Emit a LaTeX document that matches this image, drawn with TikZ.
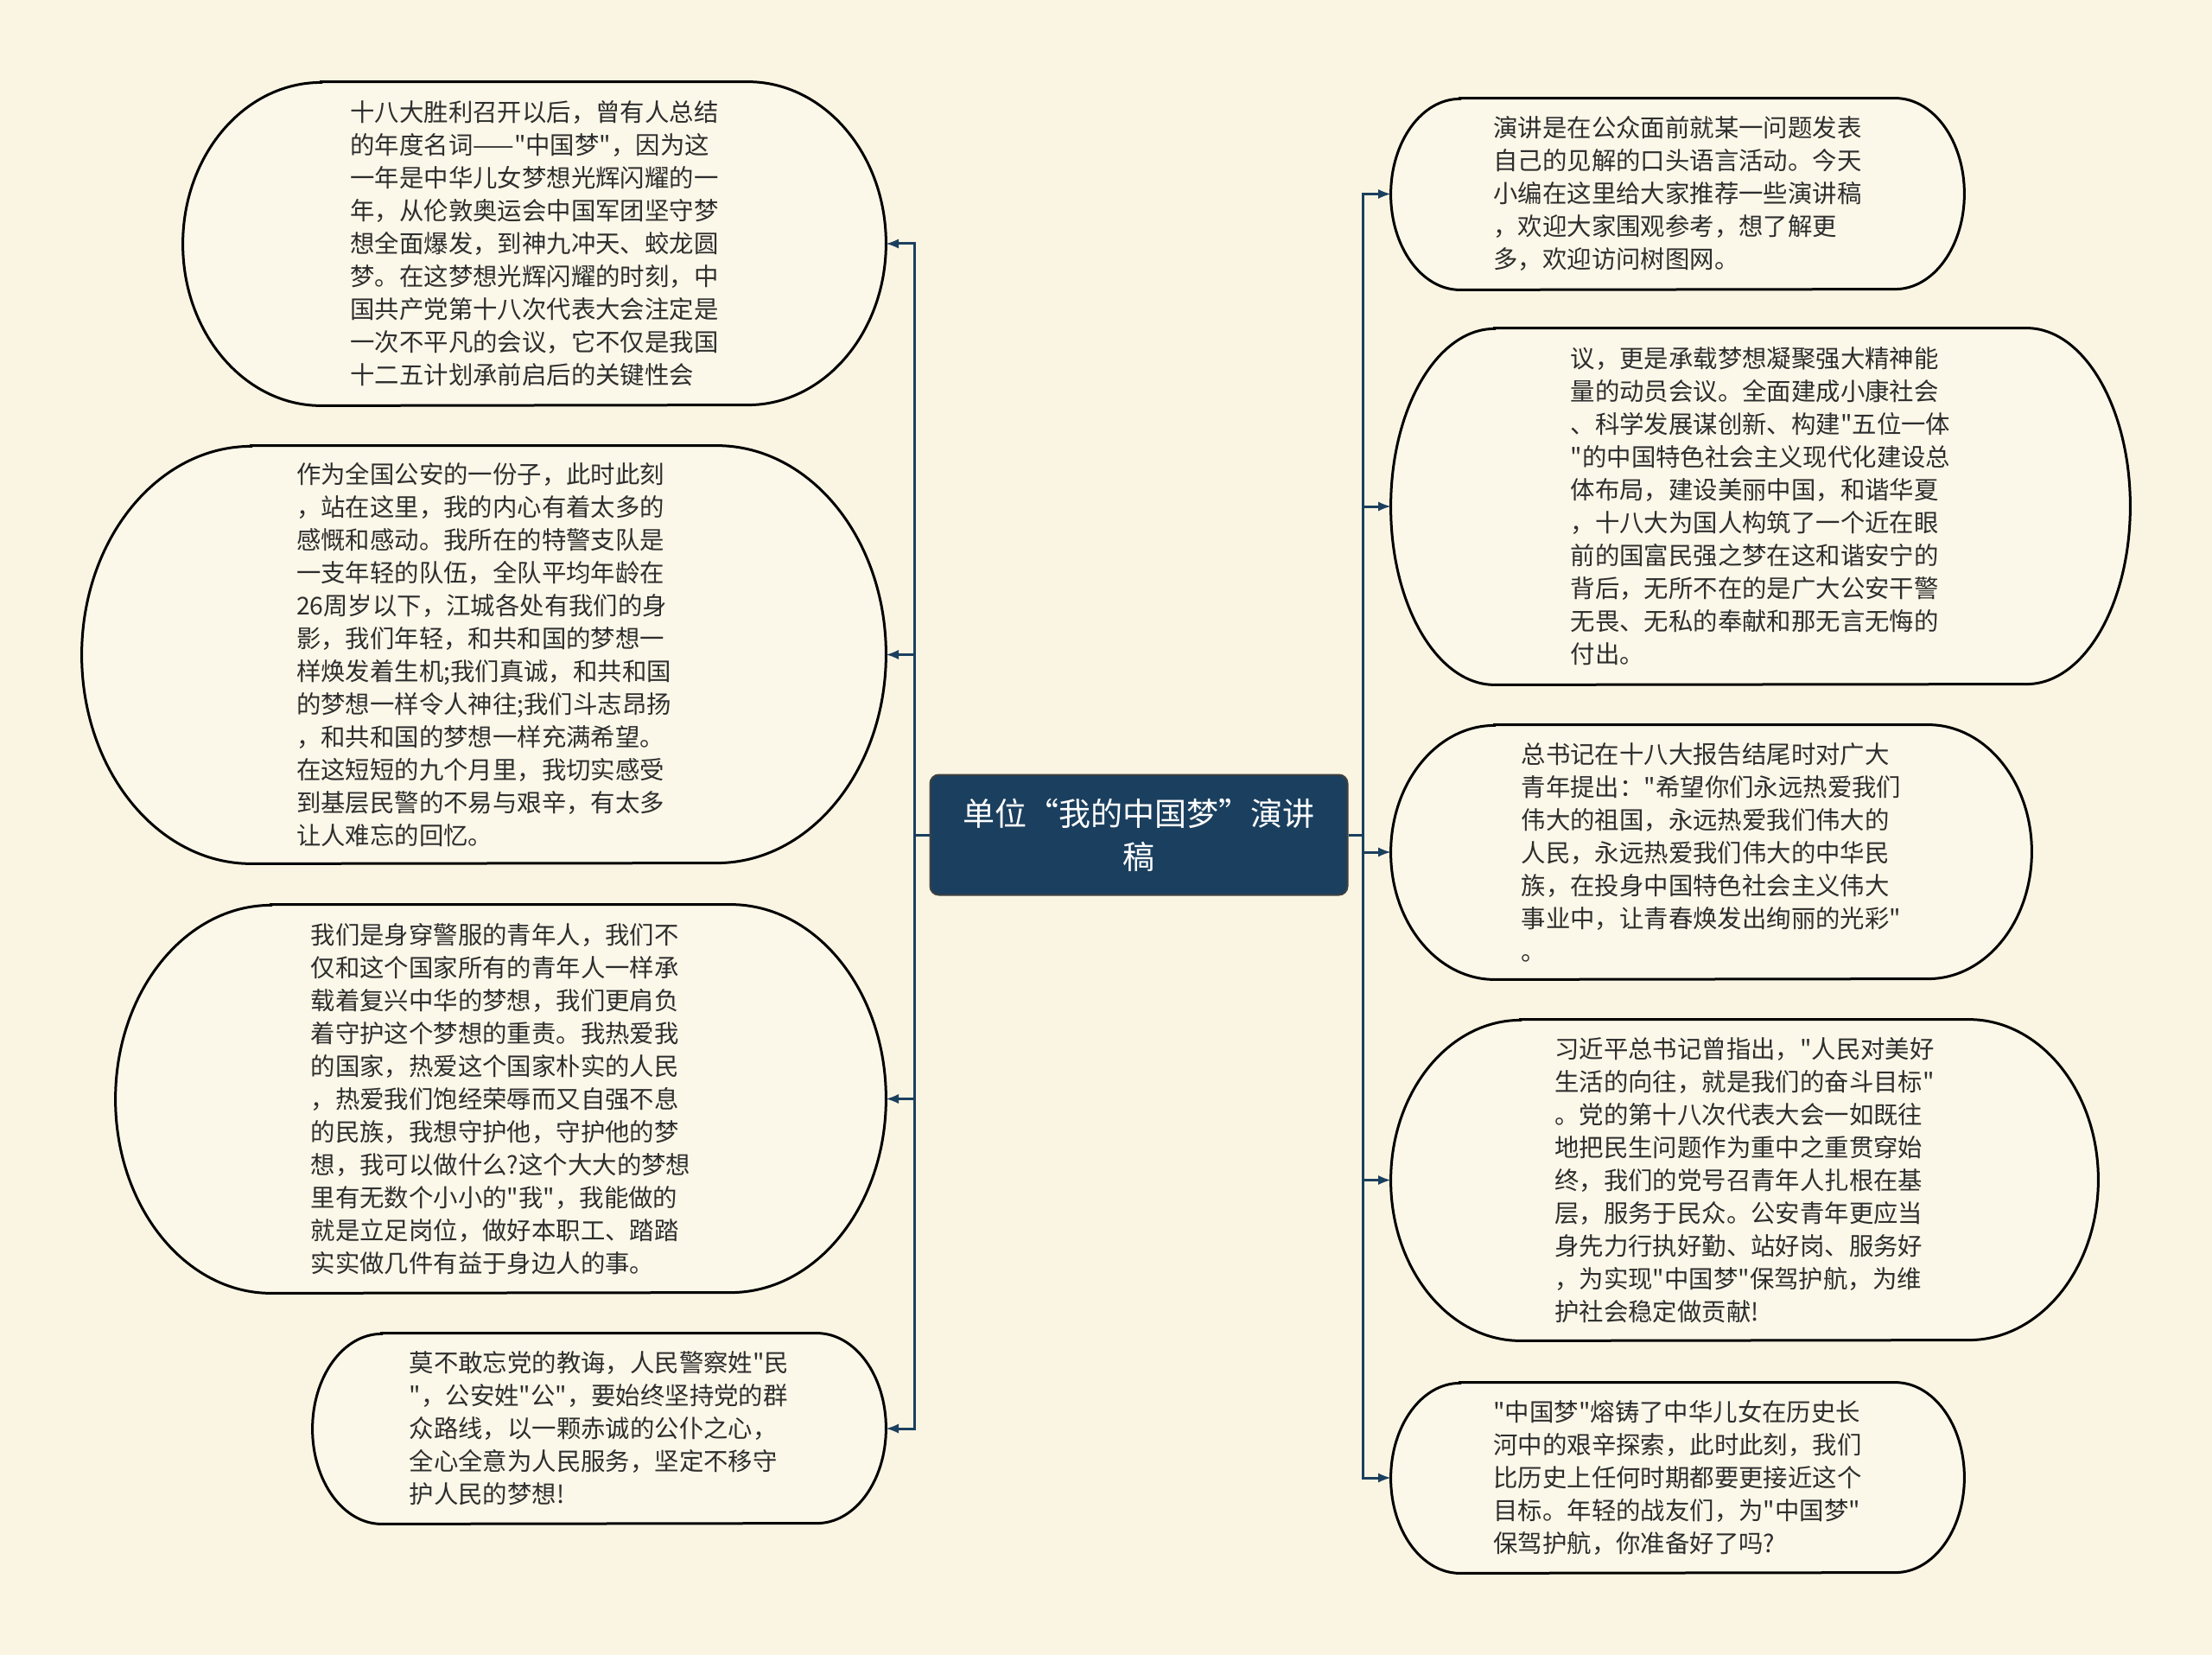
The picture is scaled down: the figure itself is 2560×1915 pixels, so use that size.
\documentclass[tikz,border=0pt]{standalone}
\usepackage{fontspec}
\setmainfont{Noto Sans CJK SC}
\newfontfamily\cjkfont{Noto Sans CJK SC}
\usetikzlibrary{backgrounds}
\definecolor{paper}{HTML}{FAF5E2}
\definecolor{bubblefill}{HTML}{FCF8E9}
\definecolor{navy}{HTML}{1B3F5E}
\definecolor{ink}{HTML}{2E2E2E}
% outline of a bubble: node, x radius, y radius of the round ends
\newcommand{\bubbleoutline}[3]{%
  \draw[bubbleline] ([xshift=#2]#1.north west) -- ([xshift=-#2]#1.north east)
    arc[start angle=90, end angle=-90, x radius=#2, y radius=#3]
    -- ([xshift=#2]#1.south west)
    arc[start angle=270, end angle=90, x radius=#2, y radius=#3] -- cycle;}
\begin{document}
\begin{tikzpicture}[x=0.5pt, y=-0.5pt]
\tikzset{
  topic/.style={draw=black!75, line width=1pt, rounded corners=5pt, fill=navy, text=white, align=center, font=\cjkfont\fontsize{18.5}{25}\selectfont, minimum width=241.5pt, minimum height=69.5pt, inner sep=0pt},
  bubble/.style={align=left, text=ink, font=\cjkfont\fontsize{14.2}{19}\selectfont, inner sep=0pt},
  bubbleline/.style={draw=black, line width=1.5pt, fill=bubblefill},
  branch/.style={draw=navy, line width=1.5pt, -latex},
  stem/.style={draw=navy, line width=1.5pt}
}
\useasboundingbox (0,0) rectangle (2560,1915);

\node[topic] (yanjianggao) at (1318,966) {单位“我的中国梦”演讲\\稿};

% left side
\node[bubble, minimum width=406.5pt, minimum height=187pt] (mingci) at (618.5,282) {十八大胜利召开以后，曾有人总结\\的年度名词——"中国梦"，因为这\\一年是中华儿女梦想光辉闪耀的一\\年，从伦敦奥运会中国军团坚守梦\\想全面爆发，到神九冲天、蛟龙圆\\梦。在这梦想光辉闪耀的时刻，中\\国共产党第十八次代表大会注定是\\一次不平凡的会议，它不仅是我国\\十二五计划承前启后的关键性会};
\node[bubble, minimum width=465pt, minimum height=241.5pt] (gongan) at (560,757.5) {作为全国公安的一份子，此时此刻\\，站在这里，我的内心有着太多的\\感慨和感动。我所在的特警支队是\\一支年轻的队伍，全队平均年龄在\\26周岁以下，江城各处有我们的身\\影，我们年轻，和共和国的梦想一\\样焕发着生机;我们真诚，和共和国\\的梦想一样令人神往;我们斗志昂扬\\，和共和国的梦想一样充满希望。\\在这短短的九个月里，我切实感受\\到基层民警的不易与艰辛，有太多\\让人难忘的回忆。};
\node[bubble, minimum width=445.5pt, minimum height=224.5pt] (qingnian) at (579.5,1271.5) {我们是身穿警服的青年人，我们不\\仅和这个国家所有的青年人一样承\\载着复兴中华的梦想，我们更肩负\\着守护这个梦想的重责。我热爱我\\的国家，热爱这个国家朴实的人民\\，热爱我们饱经荣辱而又自强不息\\的民族，我想守护他，守护他的梦\\想，我可以做什么?这个大大的梦想\\里有无数个小小的"我"，我能做的\\就是立足岗位，做好本职工、踏踏\\实实做几件有益于身边人的事。};
\node[bubble, minimum width=331.5pt, minimum height=110pt] (jiaohui) at (693.5,1653) {莫不敢忘党的教诲，人民警察姓"民\\"，公安姓"公"，要始终坚持党的群\\众路线，以一颗赤诚的公仆之心，\\全心全意为人民服务，坚定不移守\\护人民的梦想!};

% right side
\node[bubble, minimum width=331.5pt, minimum height=110.5pt] (yanjiang) at (1941.5,224.5) {演讲是在公众面前就某一问题发表\\自己的见解的口头语言活动。今天\\小编在这里给大家推荐一些演讲稿\\，欢迎大家围观参考，想了解更\\多，欢迎访问树图网。};
\node[bubble, minimum width=427.5pt, minimum height=206pt] (dongyuan) at (2037.5,586) {议，更是承载梦想凝聚强大精神能\\量的动员会议。全面建成小康社会\\、科学发展谋创新、构建"五位一体\\"的中国特色社会主义现代化建设总\\体布局，建设美丽中国，和谐华夏\\，十八大为国人构筑了一个近在眼\\前的国富民强之梦在这和谐安宁的\\背后，无所不在的是广大公安干警\\无畏、无私的奉献和那无言无悔的\\付出。};
\node[bubble, minimum width=370.5pt, minimum height=147pt] (baogao) at (1980.5,986) {总书记在十八大报告结尾时对广大\\青年提出："希望你们永远热爱我们\\伟大的祖国，永远热爱我们伟大的\\人民，永远热爱我们伟大的中华民\\族，在投身中国特色社会主义伟大\\事业中，让青春焕发出绚丽的光彩"\\。};
\node[bubble, minimum width=409pt, minimum height=185.5pt] (fendou) at (2019,1365.5) {习近平总书记曾指出，"人民对美好\\生活的向往，就是我们的奋斗目标"\\。党的第十八次代表大会一如既往\\地把民生问题作为重中之重贯穿始\\终，我们的党号召青年人扎根在基\\层，服务于民众。公安青年更应当\\身先力行执好勤、站好岗、服务好\\，为实现"中国梦"保驾护航，为维\\护社会稳定做贡献!};
\node[bubble, minimum width=331.5pt, minimum height=110pt] (baojia) at (1941.5,1710) {"中国梦"熔铸了中华儿女在历史长\\河中的艰辛探索，此时此刻，我们\\比历史上任何时期都要更接近这个\\目标。年轻的战友们，为"中国梦"\\保驾护航，你准备好了吗?};

\begin{scope}[on background layer]
\fill[paper] (0,0) rectangle (2560,1915);
\bubbleoutline{mingci}{80pt}{93.5pt}
\bubbleoutline{gongan}{98pt}{120.75pt}
\bubbleoutline{qingnian}{90pt}{112.25pt}
\bubbleoutline{jiaohui}{40pt}{55pt}
\bubbleoutline{yanjiang}{40pt}{55.25pt}
\bubbleoutline{dongyuan}{60pt}{103pt}
\bubbleoutline{baogao}{60pt}{73.5pt}
\bubbleoutline{fendou}{75pt}{92.75pt}
\bubbleoutline{baojia}{40pt}{55pt}
\end{scope}

\coordinate (jl) at (1058,966);
\coordinate (jr) at (1577,966);

\draw[stem] (yanjianggao.west) -- (jl);
\draw[branch] (jl) |- (mingci.east);
\draw[branch] (jl) |- (gongan.east);
\draw[branch] (jl) |- (qingnian.east);
\draw[branch] (jl) |- (jiaohui.east);

\draw[stem] (yanjianggao.east) -- (jr);
\draw[branch] (jr) |- (yanjiang.west);
\draw[branch] (jr) |- (dongyuan.west);
\draw[branch] (jr) |- (baogao.west);
\draw[branch] (jr) |- (fendou.west);
\draw[branch] (jr) |- (baojia.west);
\end{tikzpicture}
\end{document}
